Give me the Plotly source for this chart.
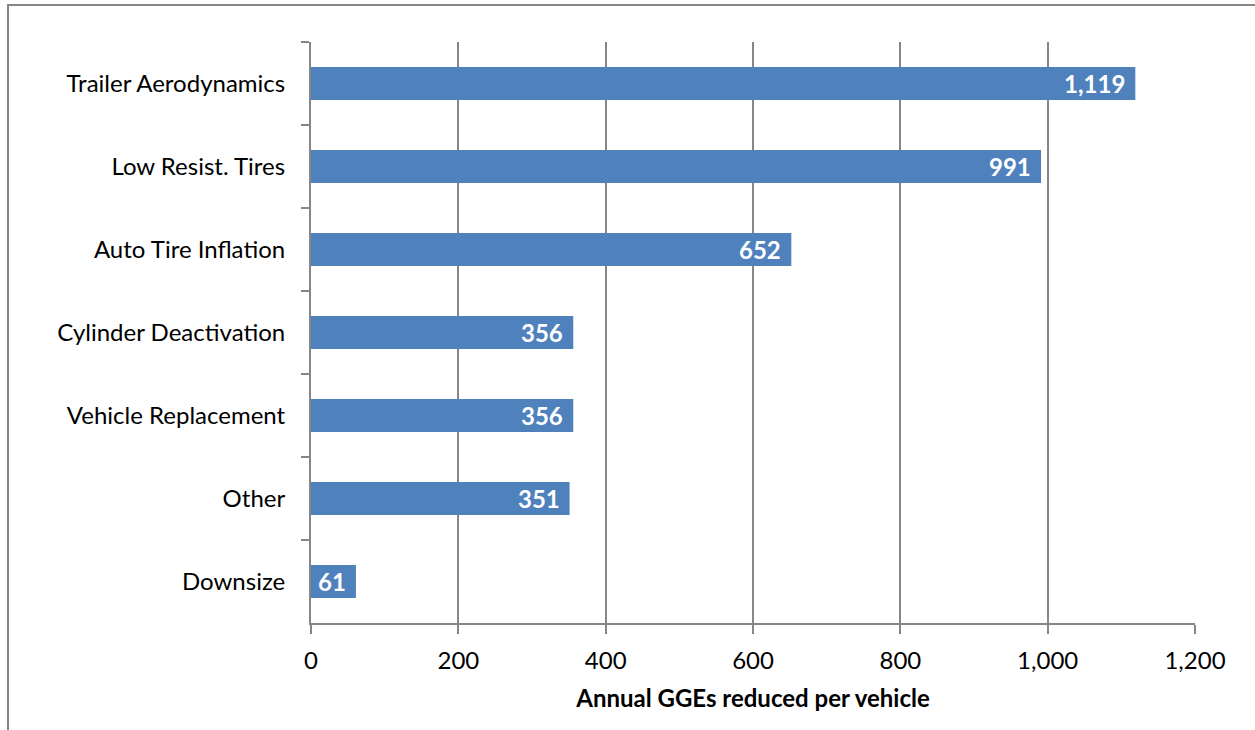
import plotly.graph_objects as go

measures = [
    "Trailer Aerodynamics",
    "Low Resist. Tires",
    "Auto Tire Inflation",
    "Cylinder Deactivation",
    "Vehicle Replacement",
    "Other",
    "Downsize",
]
gge_reduced = [1119, 991, 652, 356, 356, 351, 61]
x_ticks = [0, 200, 400, 600, 800, 1000, 1200]
x_tick_labels = ["0", "200", "400", "600", "800", "1,000", "1,200"]

W, H = 1255, 730
L, R, T, B = 311, 60, 42, 107
axis_grey = "#868686"
font_family = "Lato, 'Open Sans', sans-serif"
FS = 24

fig = go.Figure(
    go.Bar(
        x=gge_reduced,
        y=measures,
        orientation="h",
        marker=dict(color="#4f81bd", line=dict(width=0)),
        hoverinfo="x+y",
    )
)

# value labels, white bold, just inside the end of each bar
for name, val in zip(measures, gge_reduced):
    fig.add_annotation(
        x=val, y=name, xref="x", yref="y",
        text=f"<b>{val:,}</b>",
        showarrow=False,
        xanchor="right",
        xshift=-8,
        font=dict(color="white", size=FS, family=font_family),
    )

# outer chart border (left and top edges visible)
pw, ph = W - L - R, H - T - B
def px(x):
    return (x - L) / pw
def py(y):
    return (H - B - y) / ph

fig.add_shape(type="line", xref="paper", yref="paper",
              x0=px(8), x1=px(8), y0=py(5), y1=py(H + 5),
              line=dict(color=axis_grey, width=2))
fig.add_shape(type="line", xref="paper", yref="paper",
              x0=px(7), x1=px(W + 5), y0=py(5), y1=py(5),
              line=dict(color=axis_grey, width=2))

fig.update_layout(
    width=W,
    height=H,
    margin=dict(l=L, r=R, t=T, b=B),
    paper_bgcolor="white",
    plot_bgcolor="white",
    bargap=0.6,
    showlegend=False,
    font=dict(family=font_family, size=FS, color="black"),
)

fig.update_xaxes(
    range=[0, 1200],
    tickvals=x_ticks,
    ticktext=x_tick_labels,
    showgrid=True,
    gridcolor=axis_grey,
    gridwidth=2,
    zeroline=False,
    showline=True,
    linecolor=axis_grey,
    linewidth=2,
    ticks="outside",
    ticklen=9,
    tickwidth=2,
    tickcolor=axis_grey,
    tickfont=dict(size=FS),
    ticklabelstandoff=6,
    title=dict(text="<b>Annual GGEs reduced per vehicle</b>", font=dict(size=FS), standoff=17),
)

fig.update_yaxes(
    autorange="reversed",
    showgrid=False,
    zeroline=False,
    showline=True,
    linecolor=axis_grey,
    linewidth=2,
    ticks="outside",
    tickson="boundaries",
    ticklen=8,
    tickwidth=2,
    tickcolor=axis_grey,
    tickfont=dict(size=FS),
    ticklabelstandoff=19,
)

fig.write_html("out.html")
